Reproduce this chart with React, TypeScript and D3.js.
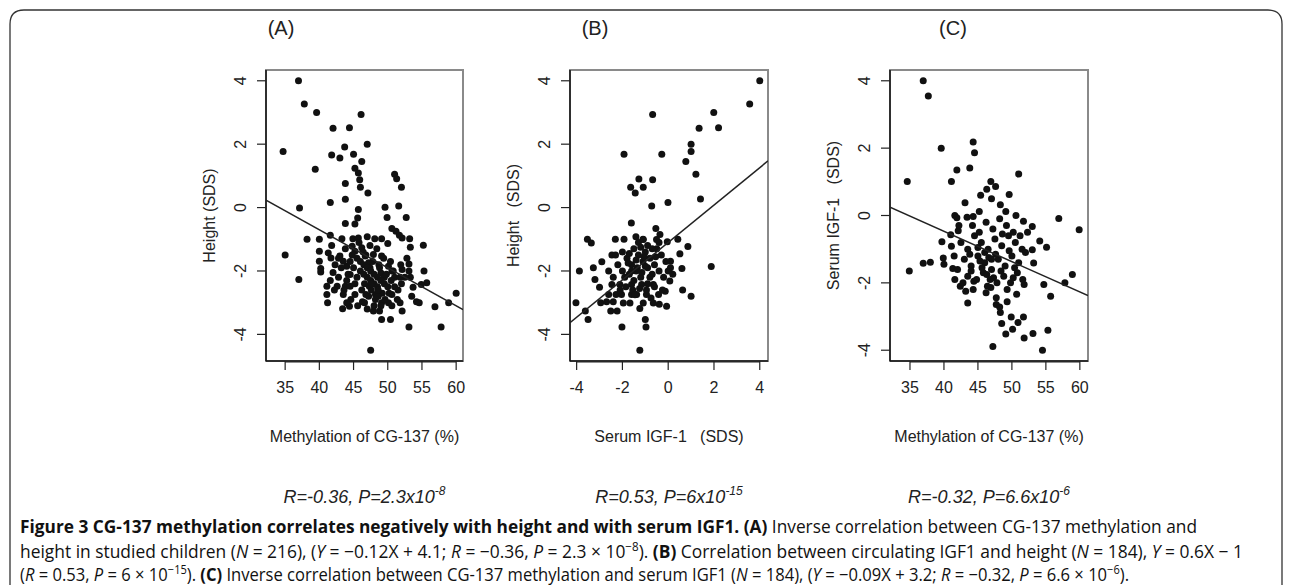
import React from 'react';
import * as d3 from 'd3';

// ---- data ----
const methylTicks = [35, 40, 45, 50, 55, 60];
const igfTicks = [-4, -2, 0, 2, 4];
const sdsTicks = [-4, -2, 0, 2, 4];

// Panel A: methylation (%) vs height (SDS)
const methylA = [
  36.95, 37.8, 39.6, 46.1, 42.0, 44.4, 47.0, 34.7, 43.7, 41.8, 43.0, 45.0, 46.2, 39.4, 45.2, 45.7, 45.9, 46.0, 43.8, 47.1,
  51.0, 51.3, 52.0, 41.6, 43.8, 37.1, 45.7, 49.6, 51.6, 49.9, 52.7, 45.6, 43.8, 45.2, 50.6, 51.2, 51.7, 52.1, 53.2, 53.3,
  55.2, 38.2, 40.0, 41.6, 43.3, 44.9, 45.7, 47.0, 48.1, 49.1, 50.0, 35.0, 37.0, 40.0, 40.0, 40.2, 40.2, 41.3, 41.7, 42.3,
  43.0, 43.5, 42.0, 44.0, 44.5, 44.8, 45.2, 46.2, 46.7, 47.2, 47.4, 47.9, 48.7, 49.1, 49.0, 49.5, 50.1, 50.6, 51.0, 52.1,
  51.9, 53.1, 53.1, 53.3, 55.3, 55.7, 54.9, 53.7, 41.1, 41.1, 41.2, 42.6, 43.8, 44.5, 43.5, 45.2, 43.4, 44.4, 46.3, 46.8,
  47.3, 48.2, 47.9, 48.8, 49.1, 50.1, 50.6, 51.8, 52.1, 49.1, 50.4, 53.1, 57.8, 56.9, 54.2, 54.6, 58.9, 60.0, 47.5,
  45.5, 46.0, 46.5, 47.0, 47.5, 48.0, 48.5, 46.0, 46.5, 47.0, 47.5, 48.0, 48.5, 49.0, 49.5, 50.0, 45.0, 45.5, 44.5, 44.0,
  46.8, 47.8, 48.8, 49.8, 50.5, 51.0, 51.5, 52.0, 52.5, 49.2, 48.2, 47.2, 46.2, 45.2, 44.2, 43.2, 42.8, 43.6, 44.6, 45.6,
  46.6, 47.6, 48.6, 49.6, 50.6, 51.4, 50.2, 46.4, 47.4, 48.4, 49.4, 50.4, 45.8, 44.8, 43.8, 42.8, 41.8, 42.2, 41.6, 44.0,
  48.0, 49.0, 47.0, 50.8, 51.8, 53.5, 52.8, 46.6, 47.6, 48.6,
];
const heightA = [
  4.0, 3.27, 3.0, 2.94, 2.5, 2.52, 2.0, 1.77, 1.91, 1.66, 1.56, 1.68, 1.45, 1.21, 1.24, 1.09, 0.88, 0.64, 0.76, 0.46,
  1.05, 0.91, 0.64, 0.16, 0.26, -0.01, -0.06, 0.01, 0.05, -0.31, -0.31, -0.33, -0.5, -0.52, -0.66, -0.75, -0.87, -0.96, -0.98, -1.25,
  -1.19, -1.0, -1.0, -0.87, -0.98, -0.98, -0.96, -0.92, -0.98, -0.98, -1.13, -1.5, -2.27, -1.38, -1.69, -1.92, -2.03, -1.43, -1.59, -1.8,
  -1.53, -1.69, -2.05, -1.85, -2.11, -1.22, -1.38, -1.27, -1.53, -1.74, -1.9, -1.48, -1.8, -1.53, -2.06, -2.2, -1.85, -2.0, -2.2, -1.95,
  -1.8, -1.78, -2.0, -2.2, -2.0, -2.37, -2.43, -2.51, -2.48, -2.74, -3.0, -2.48, -2.48, -2.48, -2.74, -2.74, -3.19, -3.11, -2.97, -2.74,
  -2.48, -2.74, -3.26, -3.26, -3.0, -3.0, -2.74, -3.0, -3.26, -3.53, -3.53, -3.77, -3.77, -3.13, -2.97, -3.0, -3.0, -2.7, -4.5,
  -1.6, -1.7, -1.8, -1.9, -2.0, -2.1, -2.2, -2.0, -2.1, -2.2, -2.3, -2.4, -2.5, -2.3, -2.4, -2.5, -1.9, -2.2, -1.7, -2.3,
  -1.5, -1.7, -1.9, -2.1, -2.3, -2.5, -2.6, -2.4, -2.2, -2.7, -2.9, -2.8, -2.6, -2.4, -2.1, -1.9, -2.2, -2.6, -2.9, -3.1,
  -3.0, -2.6, -2.8, -2.9, -3.1, -2.9, -2.7, -1.4, -1.2, -1.3, -1.6, -1.7, -1.1, -1.5, -1.3, -1.6, -1.2, -2.6, -2.3, -3.0,
  -3.1, -3.1, -3.2, -2.0, -2.2, -2.8, -1.6, -2.4, -2.4, -2.6,
];

// Panel B: serum IGF-1 (SDS) vs height (SDS)
const igfB = [
  4.0, 3.56, 1.99, 2.2, 1.35, -0.68, 1.0, 1.0, 0.77, 1.21, 1.41, -1.93, -0.28, -1.28, -1.64, -1.09, -1.44, -0.68, -0.72, -0.01,
  -1.61, -0.54, -0.36, -3.53, -3.36, -2.31, -1.93, -1.41, -1.09, -0.51, -0.04, 0.42, 0.86, 0.51, 0.1, 0.6, 1.88, -2.9, -2.46, -3.27,
  -3.88, -3.2, -3.0, -4.03, -3.62, -3.5, -2.95, -2.6, -2.51, -2.23, -2.02, -1.24, -1.0, -0.97, -1.24, 0.63, 1.0, -0.07, -0.39, -0.65,
  -1.09, -1.67, -1.96, -2.4, -2.69, -2.28, -2.04, -1.6, -1.38, -0.95, -0.42, -0.13, -2.46, -2.11, -1.6, -1.16, -0.65, 0.07,
  -2.0, -1.8, -1.6, -1.4, -1.2, -1.0, -0.8, -0.6, -0.4, -0.2, -1.5, -1.3, -1.1, -0.9, -0.7, -0.5, -2.2, -2.0, -1.9, -1.7,
  -1.5, -1.3, -1.2, -1.1, -0.9, -0.7, -0.3, -0.1, 0.1, 0.2, -0.6, -0.9, -1.25, -1.55, -1.85, -2.1, -1.4, -1.0, -0.8, -1.7,
  -2.4, -2.6, -0.4, -1.35, -1.15, -0.95, -1.6, -1.05, -0.55, -1.75, -0.25, 0.0, -2.3, -1.45, -0.75,
];
const heightB = [
  4.0, 3.27, 3.0, 2.52, 2.5, 2.94, 2.0, 1.77, 1.45, 1.05, 0.27, 1.68, 1.68, 0.9, 0.64, 0.64, 0.46, 0.88, 0.05, 0.16,
  -0.49, -0.66, -0.85, -1.0, -1.12, -1.0, -1.0, -0.92, -1.01, -1.01, -1.08, -1.0, -1.23, -1.46, -1.69, -1.92, -1.86, -1.71, -1.5, -1.9,
  -2.0, -2.27, -2.51, -3.0, -3.26, -3.53, -3.0, -2.74, -3.26, -3.26, -3.77, -4.5, -3.53, -3.77, -3.18, -2.6, -2.8, -3.11, -3.05, -3.01,
  -3.01, -3.01, -3.01, -2.97, -2.97, -2.74, -2.74, -2.74, -2.74, -2.74, -2.74, -2.64, -2.43, -2.43, -2.43, -2.43, -2.43, -2.32,
  -1.4, -1.6, -1.8, -2.0, -2.2, -1.4, -1.6, -1.8, -2.0, -2.2, -1.3, -1.5, -1.7, -1.9, -2.1, -1.3, -1.8, -2.0, -2.2, -2.1,
  -2.3, -1.1, -1.25, -1.0, -1.2, -1.3, -1.5, -1.7, -1.9, -2.1, -2.5, -2.4, -2.55, -2.6, -2.5, -2.6, -1.65, -1.85, -2.2, -1.45,
  -2.2, -2.0, -1.1, -1.9, -2.05, -2.6, -2.0, -1.55, -1.55, -1.75, -2.6, -2.0, -1.5, -2.75, -2.85,
];

// Panel C: methylation (%) vs serum IGF-1 (SDS)
const methylC = [
  36.95, 37.7, 39.6, 44.3, 44.5, 34.6, 41.9, 43.8, 41.1, 51.0, 46.9, 47.6, 46.3, 45.4, 47.0, 49.6, 43.1, 48.3, 49.1, 41.6,
  41.9, 43.4, 44.3, 45.2, 50.6, 51.7, 53.0, 56.9, 59.9, 34.9, 36.95, 38.0, 43.5, 47.2, 54.5, 55.3, 53.1, 51.8, 49.1, 50.1,
  48.5, 50.9, 51.7, 49.9, 48.3, 48.2, 49.3, 50.7, 51.8, 54.7, 55.7, 57.8, 58.9, 54.1, 55.1, 53.2, 53.0, 47.7, 47.7, 46.2,
  46.9, 44.4, 42.4, 41.6, 41.3, 39.7, 39.9, 40.0, 41.1, 42.1, 41.0,
  42.5, 43.5, 44.5, 45.5, 46.5, 47.5, 48.5, 49.5, 50.5, 51.5, 43.0, 44.0, 45.0, 46.0, 47.0, 48.0, 49.0, 50.0, 51.0, 52.0,
  42.0, 43.5, 44.8, 45.8, 46.8, 47.8, 48.8, 49.8, 50.8, 44.2, 45.2, 46.2, 47.2, 48.2, 49.2, 50.2, 45.6, 46.6, 47.6, 46.3,
  47.3, 45.0, 48.4, 49.6, 50.4, 43.8, 42.8, 44.3, 46.4, 51.2, 52.3, 41.5, 42.2, 47.0, 46.0, 45.3, 48.6, 49.3, 50.2, 51.6,
  44.0, 43.2,
];
const igfC = [
  4.0, 3.55, 2.0, 2.18, 1.86, 1.01, 1.35, 1.41, 1.01, 1.23, 1.01, 0.86, 0.78, 0.6, 0.5, 0.62, 0.38, 0.32, 0.12, 0.0,
  -0.07, -0.05, -0.03, 0.12, 0.0, -0.17, -0.33, -0.09, -0.42, -1.65, -1.42, -1.39, -2.6, -3.89, -4.0, -3.41, -3.5, -3.64, -3.52, -3.38,
  -3.21, -3.18, -3.01, -3.01, -2.88, -2.72, -2.56, -2.34, -2.05, -2.05, -2.4, -2.0, -1.75, -0.76, -0.94, -1.41, -1.02, -2.64, -2.44, -2.29,
  -2.14, -1.95, -2.1, -1.9, -1.57, -0.78, -1.26, -1.45, -0.91, -0.45, -0.57,
  -0.8, -1.0, -0.6, -0.8, -1.0, -0.7, -0.9, -0.6, -0.8, -1.0, -1.3, -1.5, -1.2, -1.4, -1.6, -1.3, -1.5, -1.2, -1.4, -1.1,
  -1.6, -1.8, -1.9, -1.7, -1.9, -2.0, -1.8, -2.0, -1.7, -0.3, -0.5, -0.2, -0.4, -0.1, -0.3, -0.5, -1.55, -1.25, -1.15, -1.75,
  -1.85, -0.95, -1.65, -1.05, -1.55, -1.15, -2.0, -2.2, -2.1, -0.6, -0.5, -1.2, -0.3, -1.3, -1.1, -1.35, -0.55, -2.2, -1.85, -1.9,
  -1.65, -2.25,
];

// fitted lines
const fitA = { slope: -0.12, intercept: 4.1 };
const fitB = { slope: 0.59, intercept: -1.1 };
const fitC = { slope: -0.09, intercept: 3.13 };

const W = 1292;
const H = 585;
const TOP = 70;
const BOTTOM = 361;
const FONT = '"Liberation Sans", Arial, Helvetica, sans-serif';
const CAPTION_FONT = '"Open Sans", "Noto Sans", sans-serif';

const panels = [
  {
    key: 'A', label: '(A)', labelX: 281, left: 266, right: 463,
    xDomain: [32.2, 61.0], yDomain: [-4.84, 4.34], xTicks: methylTicks, yTicks: sdsTicks,
    xs: methylA, ys: heightA, fit: fitA,
    xTitle: 'Methylation of CG-137 (%)', yTitle: 'Height (SDS)',
    stat: 'R=-0.36, P=2.3x10', statExp: '-8',
  },
  {
    key: 'B', label: '(B)', labelX: 595, left: 570, right: 768,
    xDomain: [-4.29, 4.36], yDomain: [-4.84, 4.34], xTicks: igfTicks, yTicks: sdsTicks,
    xs: igfB, ys: heightB, fit: fitB,
    xTitle: 'Serum IGF-1   (SDS)', yTitle: 'Height   (SDS)',
    stat: 'R=0.53, P=6x10', statExp: '-15',
  },
  {
    key: 'C', label: '(C)', labelX: 953, left: 890, right: 1088,
    xDomain: [32.06, 61.2], yDomain: [-4.32, 4.32], xTicks: methylTicks, yTicks: sdsTicks,
    xs: methylC, ys: igfC, fit: fitC,
    xTitle: 'Methylation of CG-137 (%)', yTitle: 'Serum IGF-1   (SDS)',
    stat: 'R=-0.32, P=6.6x10', statExp: '-6',
  },
];

function Panel({ p }) {
  const x = d3.scaleLinear().domain(p.xDomain).range([p.left, p.right]);
  const y = d3.scaleLinear().domain(p.yDomain).range([BOTTOM, TOP]);
  const cx = (p.left + p.right) / 2;
  const cy = (TOP + BOTTOM) / 2;
  const [x0, x1] = p.xDomain;
  const line = d3.line()([
    [x(x0), y(p.fit.slope * x0 + p.fit.intercept)],
    [x(x1), y(p.fit.slope * x1 + p.fit.intercept)],
  ]);
  const clipId = `clip-${p.key}`;
  const tickX = p.xTicks;
  const tickY = p.yTicks;

  return (
    <g fontFamily={FONT} fill="#222">
      <defs>
        <clipPath id={clipId}>
          <rect x={p.left} y={TOP} width={p.right - p.left} height={BOTTOM - TOP} />
        </clipPath>
      </defs>
      <text x={p.labelX} y={35} fontSize={20} textAnchor="middle">{p.label}</text>

      {/* box */}
      <rect x={p.left} y={TOP} width={p.right - p.left} height={BOTTOM - TOP}
        fill="none" stroke="#8a8a8a" strokeWidth={2} />
      <line x1={p.left} x2={p.left} y1={TOP} y2={BOTTOM} stroke="#111" strokeWidth={1.5} />
      <line x1={p.left} x2={p.right} y1={BOTTOM} y2={BOTTOM} stroke="#111" strokeWidth={1.5} />

      {/* x axis */}
      <line x1={x(tickX[0])} x2={x(tickX[tickX.length - 1])} y1={BOTTOM + 1} y2={BOTTOM + 1} stroke="#222" strokeWidth={1.2} />
      {tickX.map(t => (
        <g key={`x${t}`}>
          <line x1={x(t)} x2={x(t)} y1={BOTTOM} y2={BOTTOM + 9} stroke="#222" strokeWidth={1.2} />
          <text x={x(t)} y={BOTTOM + 32} fontSize={16} textAnchor="middle">{t}</text>
        </g>
      ))}
      <text x={cx} y={BOTTOM + 81} fontSize={16} textAnchor="middle" style={{ whiteSpace: 'pre' }}>{p.xTitle}</text>

      {/* y axis */}
      {tickY.map(t => (
        <g key={`y${t}`}>
          <line x1={p.left - 9} x2={p.left} y1={y(t)} y2={y(t)} stroke="#222" strokeWidth={1.2} />
          <text x={p.left - 26} y={y(t)} fontSize={16} textAnchor="middle" dy="0.35em"
            transform={`rotate(-90, ${p.left - 26}, ${y(t)})`}>{t}</text>
        </g>
      ))}
      <text x={p.left - 57} y={cy} fontSize={16} textAnchor="middle" dy="0.35em" style={{ whiteSpace: 'pre' }}
        transform={`rotate(-90, ${p.left - 57}, ${cy})`}>{p.yTitle}</text>

      {/* points and fit */}
      <g clipPath={`url(#${clipId})`}>
        {p.xs.map((v, i) => (
          <circle key={i} cx={x(v)} cy={y(p.ys[i])} r={3.5} fill="#111" />
        ))}
        <path d={line} stroke="#222" strokeWidth={1.5} fill="none" />
      </g>

      {/* statistic */}
      <text x={cx} y={503} fontSize={18} fontStyle="italic" textAnchor="middle">
        {p.stat}
        <tspan fontSize={12} dy={-8}>{p.statExp}</tspan>
      </text>
    </g>
  );
}

const I = ({ children }) => <tspan fontStyle="italic">{children}</tspan>;
const Bd = ({ children }) => <tspan fontWeight="bold">{children}</tspan>;

export default function App() {
  return (
    <svg width={W} height={H} style={{ position: 'absolute', left: 0, top: 0, background: '#fff' }}>
      <rect width={W} height={H} fill="#fff" />
      <path d="M10,585 L10,24 Q10,10 24,10 L1268,10 Q1282,10 1282,24 L1282,585"
        fill="none" stroke="#333" strokeWidth={1.3} />

      {panels.map(p => <Panel key={p.key} p={p} />)}

      <g fontFamily={CAPTION_FONT} fontSize={18} fill="#111" style={{ whiteSpace: 'pre' }}>
        <text x={20} y={533} textLength={1177} lengthAdjust="spacingAndGlyphs">
          <Bd>Figure 3 CG-137 methylation correlates negatively with height and with serum IGF1. (A)</Bd>
          <tspan> Inverse correlation between CG-137 methylation and</tspan>
        </text>
        <text x={20} y={558} textLength={1223} lengthAdjust="spacingAndGlyphs">
          <tspan>height in studied children (</tspan><I>N</I><tspan> = 216), (</tspan><I>Y</I>
          <tspan> = −0.12X + 4.1; </tspan><I>R</I><tspan> = −0.36, </tspan><I>P</I>
          <tspan> = 2.3 × 10</tspan><tspan fontSize={12} dy={-7}>−8</tspan><tspan dy={7}>). </tspan><Bd>(B)</Bd>
          <tspan> Correlation between circulating IGF1 and height (</tspan><I>N</I>
          <tspan> = 184), </tspan><I>Y</I><tspan> = 0.6X − 1</tspan>
        </text>
        <text x={20} y={581} textLength={1109} lengthAdjust="spacingAndGlyphs">
          <tspan>(</tspan><I>R</I><tspan> = 0.53, </tspan><I>P</I><tspan> = 6 × 10</tspan>
          <tspan fontSize={12} dy={-7}>−15</tspan><tspan dy={7}>). </tspan><Bd>(C)</Bd>
          <tspan> Inverse correlation between CG-137 methylation and serum IGF1 (</tspan><I>N</I>
          <tspan> = 184), (</tspan><I>Y</I><tspan> = −0.09X + 3.2; </tspan><I>R</I><tspan> = −0.32, </tspan>
          <I>P</I><tspan> = 6.6 × 10</tspan><tspan fontSize={12} dy={-7}>−6</tspan><tspan dy={7}>).</tspan>
        </text>
      </g>
    </svg>
  );
}
